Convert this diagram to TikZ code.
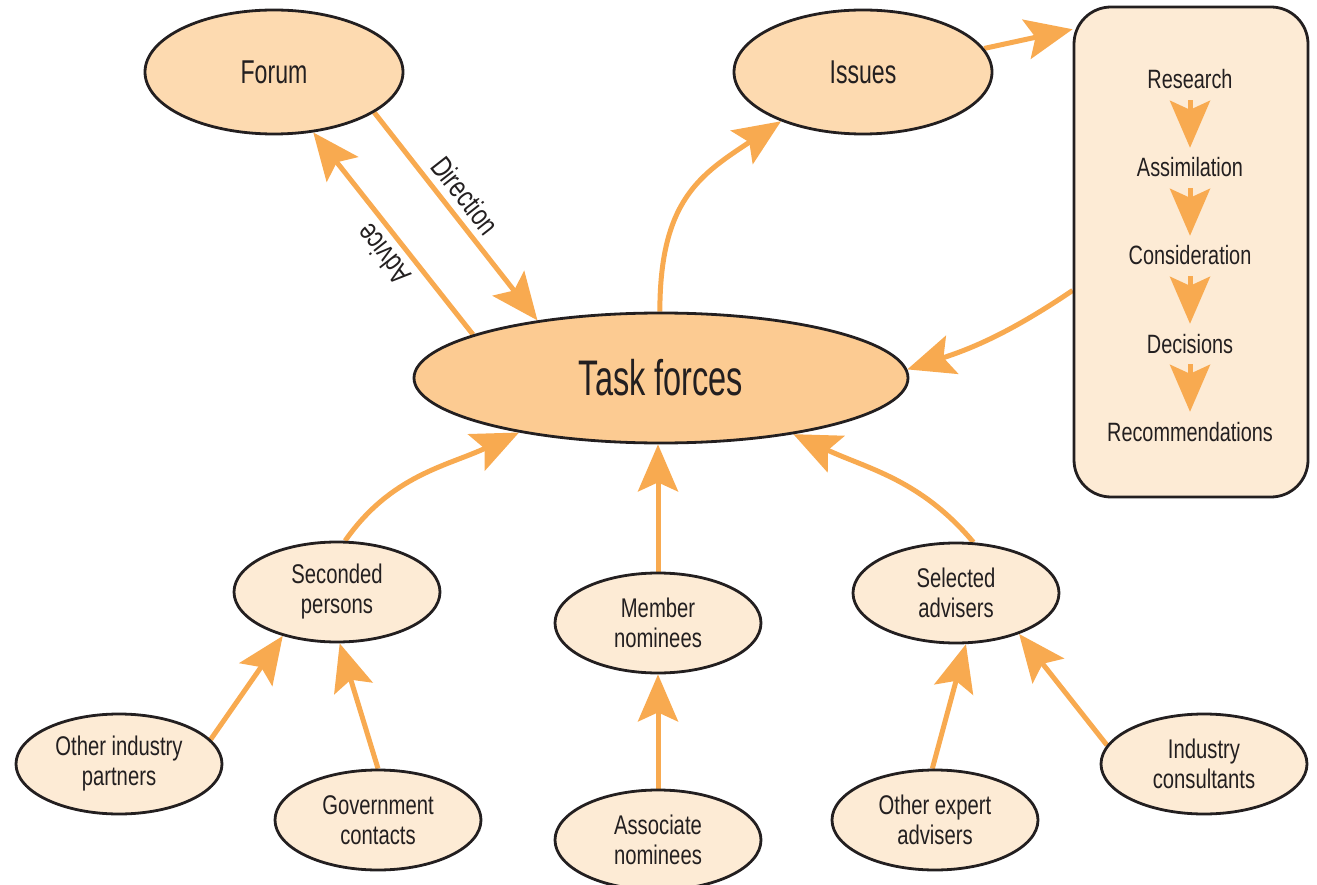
\documentclass[tikz,border=0pt]{standalone}
\usepackage{fontspec}
\setmainfont{Liberation Sans}[FakeStretch=0.75]
\newfontfamily\headfont{Liberation Sans}[FakeStretch=0.70]
\newfontfamily\mainfont{Liberation Sans}[FakeStretch=0.65]
\usetikzlibrary{shapes.geometric,arrows.meta,backgrounds}
\definecolor{ink}{HTML}{231F20}
\definecolor{arrowc}{HTML}{F8AA50}
\definecolor{topfill}{HTML}{FDDAB0}
\definecolor{mainfill}{HTML}{FCCB92}
\definecolor{lightfill}{HTML}{FDEBD5}

\begin{document}
\begin{tikzpicture}[x=1pt,y=1pt,
  oval/.style={ellipse, draw=ink, line width=2.8pt, inner sep=0pt, text=ink, align=center},
  topoval/.style={oval, fill=topfill, minimum width=258pt, minimum height=124pt,
    font=\headfont\fontsize{33}{38}\selectfont},
  mainoval/.style={oval, fill=mainfill, minimum width=494pt, minimum height=130pt,
    font=\mainfont\fontsize{50}{56}\selectfont},
  smalloval/.style={oval, fill=lightfill, minimum width=206pt, minimum height=100pt,
    font=\fontsize{27}{30}\selectfont},
  procbox/.style={draw=ink, line width=2.8pt, fill=lightfill, rounded corners=37pt,
    minimum width=234pt, minimum height=490pt, inner sep=0pt},
  pstep/.style={text=ink, inner sep=0pt, anchor=base, font=\fontsize{26.5}{30}\selectfont,
    text height=19pt, text depth=6pt},
  flow/.style={draw=arrowc, line width=5pt,
    -{Stealth[length=47pt,width=40pt,inset=9pt]}},
  edgelabel/.style={text=ink, inner sep=0pt, font=\fontsize{30}{34}\selectfont}
]
\useasboundingbox (0,0) rectangle (1317,-885);

% upper level
\node[topoval] (forum) at (274,-72) {Forum};
\node[topoval] (issues) at (863,-72) {Issues};
\node[mainoval] (tf) at (661,-378) {Task forces};

% process box with its stages
\node[procbox] (proc) at (1191,-252) {};
\node[pstep] (r1) at (1190,-89) {Research};
\node[pstep] (r2) at (1190,-177) {Assimilation};
\node[pstep] (r3) at (1190,-265) {Consideration};
\node[pstep] (r4) at (1190,-353) {Decisions};
\node[pstep] (r5) at (1190,-441) {Recommendations};

% contributors
\node[smalloval] (sec) at (337,-592) {Seconded\\persons};
\node[smalloval] (mem) at (658,-623) {Member\\nominees};
\node[smalloval] (sel) at (956,-593) {Selected\\advisers};
\node[smalloval] (oip) at (119,-764) {Other industry\\partners};
\node[smalloval] (gov) at (378,-820) {Government\\contacts};
\node[smalloval] (assoc) at (658,-840) {Associate\\nominees};
\node[smalloval] (oea) at (935,-820) {Other expert\\advisers};
\node[smalloval] (ic) at (1204,-764) {Industry\\consultants};

\begin{scope}[on background layer]
  \draw[flow] (forum.-22.5) -- (tf.155.5)
    node[edgelabel, pos=0.46, sloped, above=7pt] {Direction};
  \draw[flow] (tf.167.6) -- (forum.-57)
    node[edgelabel, pos=0.46, sloped, allow upside down, above=7pt] {Advice};
  \draw[flow] (tf.91) .. controls +(0,112) and +(-80,-53) .. (issues.211);
  \draw[flow] (issues.11) -- (proc.118.6);
  \draw[flow] (proc.198) to[out=214,in=18] (tf.2);

  \draw[flow] (sec.81) to[out=55,in=205] (tf.201.6);
  \draw[flow] (mem.north) -- (mem.north |- tf.south);
  \draw[flow] (sel.71.6) to[out=130,in=335] (tf.-23.4);

  \draw[flow] (oip.15) -- (sec.219);
  \draw[flow] (gov.north) -- (sec.-87);
  \draw[flow] (assoc.north) -- (mem.south);
  \draw[flow] (oea.93) -- (sel.-79);
  \draw[flow] (ic.169) -- (sel.-33);
\end{scope}

% stage arrows inside the process box
\foreach \a/\b in {r1/r2, r2/r3, r3/r4, r4/r5}
  \draw[flow] ([yshift=-5pt]\a.south) -- ([yshift=10pt]\b.north);
\end{tikzpicture}
\end{document}
